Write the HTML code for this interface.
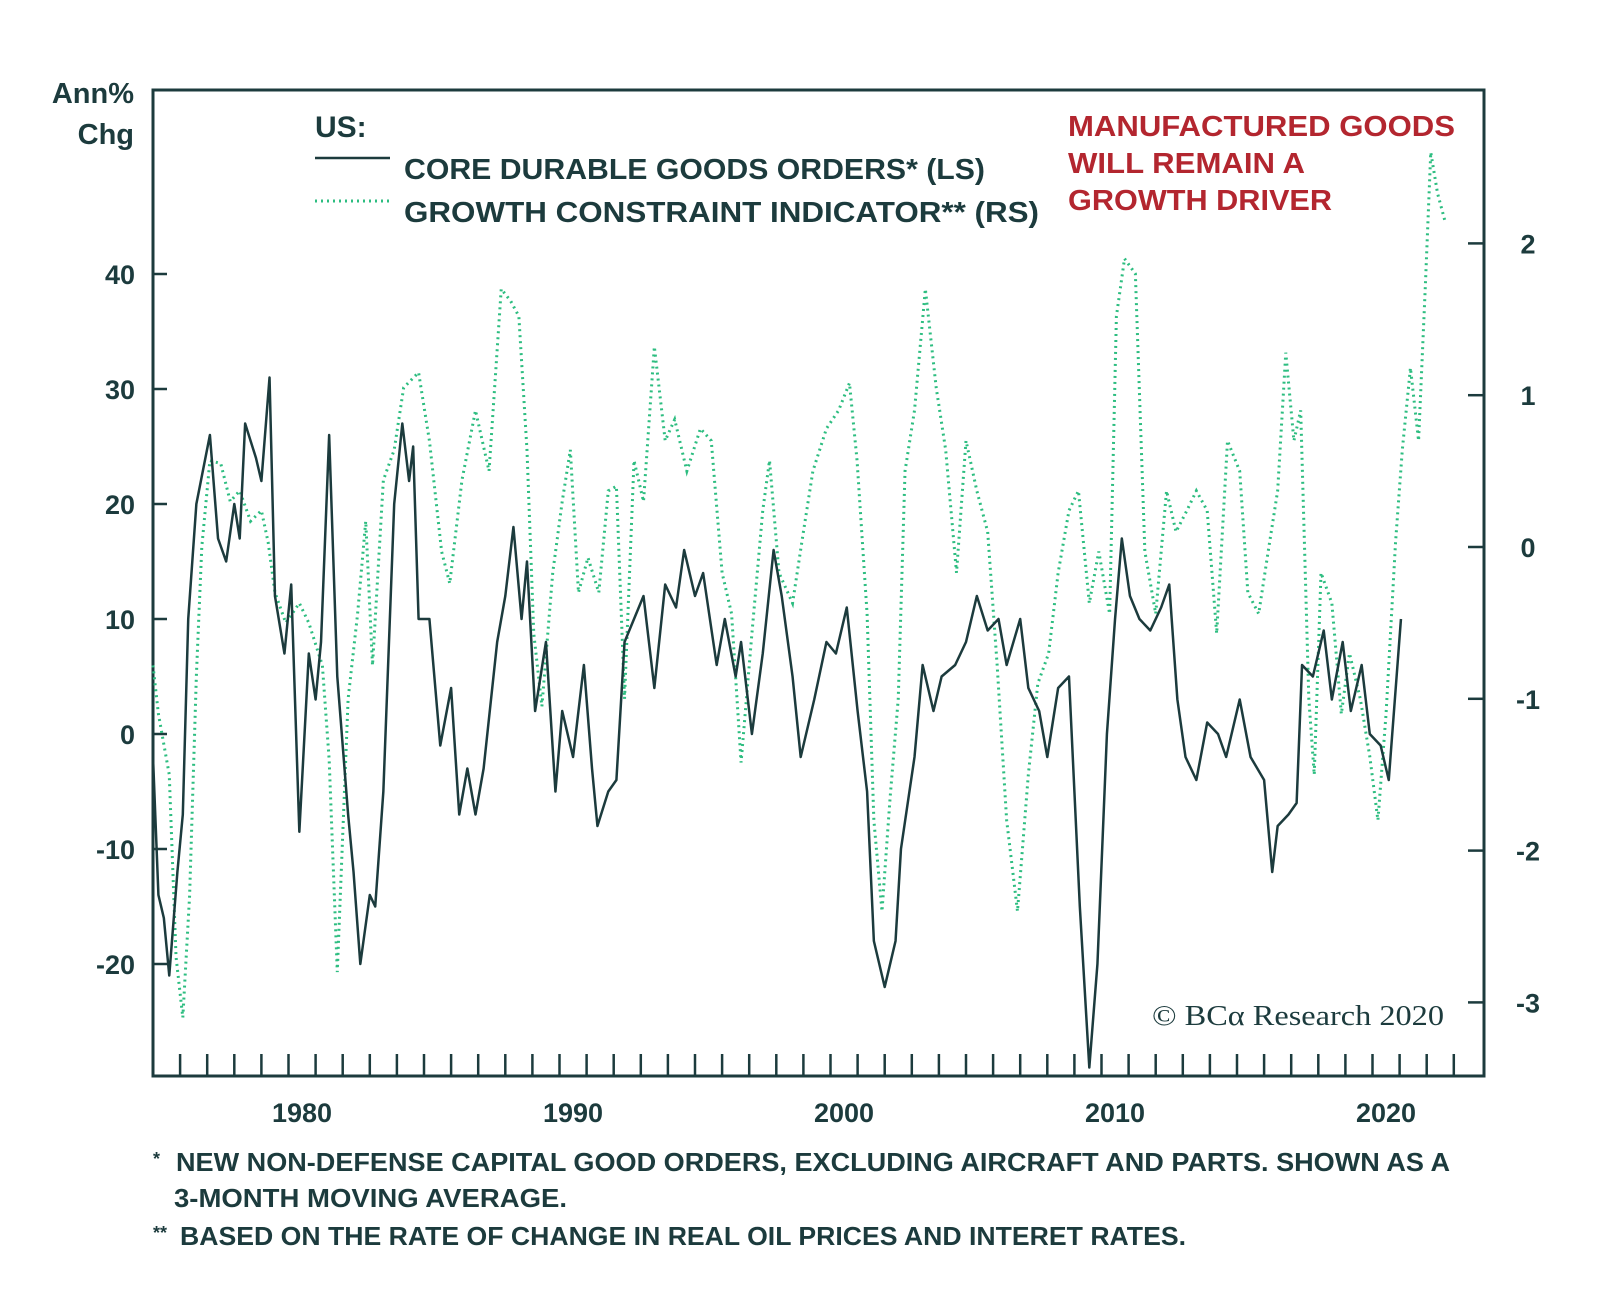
<!DOCTYPE html>
<html><head><meta charset="utf-8"><style>
html,body{margin:0;padding:0;background:#fff;}
svg{display:block;font-family:"Liberation Sans",sans-serif;}
</style></head><body>
<svg id="chart" width="1600" height="1305" viewBox="0 0 1600 1305">
<g id="axes"></g>
<g id="series"></g>
<g>
<text x="315" y="137" font-size="30" font-weight="bold" fill="#1c3b3d">US:</text>
<line x1="315" y1="158" x2="390" y2="158" stroke="#1c3b3d" stroke-width="2.5"/>
<text x="404" y="179" font-size="29" font-weight="bold" fill="#1c3b3d" textLength="581" lengthAdjust="spacingAndGlyphs">CORE DURABLE GOODS ORDERS* (LS)</text>
<line x1="315" y1="201" x2="390" y2="201" stroke="#2dbd80" stroke-width="3" stroke-dasharray="2 4"/>
<text x="404" y="222" font-size="29" font-weight="bold" fill="#1c3b3d" textLength="635" lengthAdjust="spacingAndGlyphs">GROWTH CONSTRAINT INDICATOR** (RS)</text>
</g>
<g fill="#b3262f" font-size="29" font-weight="bold">
<text x="1068" y="136" textLength="387" lengthAdjust="spacingAndGlyphs">MANUFACTURED GOODS</text>
<text x="1068" y="173" textLength="237" lengthAdjust="spacingAndGlyphs">WILL REMAIN A</text>
<text x="1068" y="210" textLength="264" lengthAdjust="spacingAndGlyphs">GROWTH DRIVER</text>
</g>
<text x="1152" y="1025" font-family="Liberation Serif, serif" font-size="29" fill="#1c3b3d" textLength="292" lengthAdjust="spacingAndGlyphs">© BCα Research 2020</text>
<text x="134" y="103" text-anchor="end" font-size="29" font-weight="bold" fill="#1c3b3d">Ann%</text>
<text x="134" y="144" text-anchor="end" font-size="29" font-weight="bold" fill="#1c3b3d">Chg</text>
<g fill="#1c3b3d" font-size="26" font-weight="bold">
<text x="153" y="1165" font-size="18">*</text>
<text x="176" y="1171" textLength="1274" lengthAdjust="spacingAndGlyphs">NEW NON-DEFENSE CAPITAL GOOD ORDERS, EXCLUDING AIRCRAFT AND PARTS. SHOWN AS A</text>
<text x="174" y="1207" textLength="393" lengthAdjust="spacingAndGlyphs">3-MONTH MOVING AVERAGE.</text>
<text x="153" y="1239" font-size="18">**</text>
<text x="180" y="1245" textLength="1006" lengthAdjust="spacingAndGlyphs">BASED ON THE RATE OF CHANGE IN REAL OIL PRICES AND INTERET RATES.</text>
</g>
</svg>
<script>
const leftTicks=[40,30,20,10,0,-10,-20];
const rightTicks=[2,1,0,-1,-2,-3];
const yearLabels=[1980,1990,2000,2010,2020];
const coreYears=[1975.0,1975.2,1975.4,1975.6,1975.9,1976.1,1976.3,1976.6,1977.1,1977.4,1977.7,1978.0,1978.2,1978.4,1978.8,1979.0,1979.3,1979.5,1979.85,1980.1,1980.4,1980.75,1981.0,1981.2,1981.5,1981.8,1982.2,1982.4,1982.65,1983.0,1983.2,1983.5,1983.9,1984.2,1984.45,1984.6,1984.8,1985.2,1985.6,1986.0,1986.3,1986.6,1986.9,1987.2,1987.7,1988.0,1988.3,1988.6,1988.8,1989.1,1989.5,1989.85,1990.1,1990.5,1990.9,1991.2,1991.4,1991.8,1992.1,1992.4,1992.75,1993.1,1993.5,1993.9,1994.3,1994.6,1995.0,1995.3,1995.8,1996.1,1996.5,1996.7,1997.1,1997.5,1997.9,1998.2,1998.6,1998.9,1999.4,1999.85,2000.2,2000.6,2001.0,2001.35,2001.6,2002.0,2002.4,2002.6,2003.1,2003.4,2003.8,2004.1,2004.6,2005.0,2005.4,2005.8,2006.2,2006.5,2007.0,2007.3,2007.7,2008.0,2008.4,2008.8,2009.2,2009.55,2009.85,2010.2,2010.5,2010.75,2011.05,2011.4,2011.8,2012.2,2012.5,2012.8,2013.1,2013.5,2013.9,2014.3,2014.6,2015.1,2015.5,2016.0,2016.3,2016.5,2016.9,2017.2,2017.4,2017.8,2018.2,2018.5,2018.9,2019.2,2019.6,2019.9,2020.3,2020.6,2021.05];
const coreValues=[-2,-14,-16,-21,-12,-7,10,20,26,17,15,20,17,27,24,22,31,12,7,13,-8.5,7,3,8,26,5,-7,-12,-20,-14,-15,-5,20,27,22,25,10,10,-1,4,-7,-3,-7,-3,8,12,18,10,15,2,8,-5,2,-2,6,-3,-8,-5,-4,8,10,12,4,13,11,16,12,14,6,10,5,8,0,7,16,12,5,-2,3,8,7,11,2,-5,-18,-22,-18,-10,-2,6,2,5,6,8,12,9,10,6,10,4,2,-2,4,5,-15,-29,-20,0,10,17,12,10,9,11,13,3,-2,-4,1,0,-2,3,-2,-4,-12,-8,-7,-6,6,5,9,3,8,2,6,0,-1,-4,10];
const gciYears=[1975.0,1975.2,1975.6,1975.85,1976.1,1976.35,1976.6,1976.8,1977.1,1977.5,1977.85,1978.2,1978.6,1979.0,1979.25,1979.5,1979.9,1980.4,1980.75,1981.25,1981.5,1981.8,1982.2,1982.55,1982.85,1983.1,1983.5,1983.9,1984.25,1984.8,1985.2,1985.65,1985.95,1986.4,1986.9,1987.4,1987.85,1988.2,1988.5,1988.8,1989.05,1989.35,1989.75,1990.1,1990.4,1990.7,1991.05,1991.45,1991.8,1992.1,1992.4,1992.75,1993.1,1993.5,1993.9,1994.25,1994.7,1995.2,1995.6,1996.0,1996.35,1996.7,1997.1,1997.5,1997.75,1998.1,1998.6,1999.0,1999.35,1999.85,2000.3,2000.7,2000.98,2001.35,2001.6,2001.9,2002.2,2002.5,2002.75,2003.1,2003.5,2003.9,2004.25,2004.65,2005.0,2005.4,2005.8,2006.15,2006.5,2006.9,2007.3,2007.65,2008.05,2008.4,2008.8,2009.15,2009.55,2009.9,2010.3,2010.55,2010.85,2011.25,2011.6,2012.0,2012.4,2012.75,2013.15,2013.5,2013.9,2014.25,2014.65,2015.1,2015.4,2015.8,2016.15,2016.5,2016.8,2017.1,2017.35,2017.65,2017.85,2018.1,2018.5,2018.85,2019.15,2019.55,2019.9,2020.2,2020.5,2020.85,2021.1,2021.4,2021.7,2021.95,2022.15,2022.4,2022.7];
const gciValues=[-0.78,-1.1,-1.5,-2.7,-3.1,-2.3,-0.85,0,0.57,0.55,0.3,0.37,0.17,0.24,0.03,-0.3,-0.5,-0.37,-0.5,-0.78,-1.4,-2.8,-1.0,-0.44,0.17,-0.78,0.44,0.64,1.05,1.15,0.7,-0.03,-0.24,0.44,0.9,0.5,1.7,1.62,1.52,0.64,-0.57,-1.05,-0.17,0.3,0.64,-0.3,-0.07,-0.3,0.37,0.4,-1.0,0.57,0.3,1.32,0.7,0.84,0.5,0.78,0.7,-0.17,-0.44,-1.42,-0.57,0.24,0.57,-0.17,-0.37,0.1,0.5,0.78,0.9,1.08,0.57,-0.44,-1.8,-2.4,-1.65,-1.0,0.5,0.9,1.7,1.05,0.64,-0.17,0.7,0.37,0.1,-0.78,-1.8,-2.4,-1.5,-0.9,-0.7,-0.17,0.24,0.37,-0.37,-0.03,-0.44,1.52,1.9,1.8,-0.03,-0.44,0.37,0.1,0.24,0.37,0.24,-0.57,0.7,0.5,-0.3,-0.44,-0.03,0.37,1.28,0.7,0.9,-1.0,-1.5,-0.17,-0.37,-1.1,-0.7,-1.0,-1.38,-1.8,-1.1,0.03,0.64,1.18,0.7,1.72,2.6,2.33,2.13];

const NS='http://www.w3.org/2000/svg';
const C='#1c3b3d';
const L=153,R=1484,T=90,B=1076;
function x(yr){return 288.5+(yr-1980)*27.1;}
function yL(v){return 734-v*11.5;}
function yR(v){return 547-v*151.8;}
function mk(tag,attrs,parent){const e=document.createElementNS(NS,tag);for(const k in attrs)e.setAttribute(k,attrs[k]);parent.appendChild(e);return e;}
const axes=document.getElementById('axes'),series=document.getElementById('series');
const frame=mk('rect',{x:L,y:T,width:R-L,height:B-T,fill:'none',stroke:C,'stroke-width':3},axes);


leftTicks.forEach(v=>{
  const t=mk('line',{x1:L,x2:L+14,y1:yL(v),y2:yL(v),stroke:C,'stroke-width':2.5},axes);
  
  
  const tx=mk('text',{x:135,y:yL(v)+10,'text-anchor':'end','font-size':27,'font-weight':'bold',fill:C},axes);
  tx.textContent=String(v);
  
  
});
rightTicks.forEach(v=>{
  const t=mk('line',{x1:R-16,x2:R,y1:yR(v),y2:yR(v),stroke:C,'stroke-width':2.5},axes);
  
  
  const tx=mk('text',{x:1528,y:yR(v)+10,'text-anchor':'middle','font-size':27,'font-weight':'bold',fill:C},axes);
  tx.textContent=String(v);
  
  
});
for(let yr=1976;yr<=2023;yr++){
  const t=mk('line',{x1:x(yr),x2:x(yr),y1:B-22,y2:B,stroke:C,'stroke-width':2.5},axes);
  
  
}
yearLabels.forEach(yr=>{
  const tx=mk('text',{x:x(yr+0.5),y:1122,'text-anchor':'middle','font-size':27,'font-weight':'bold',fill:C},axes);
  tx.textContent=String(yr);
  
  
});
const g=mk('polyline',{points:gciYears.map((yr,i)=>x(yr)+','+yR(gciValues[i])).join(' '),fill:'none',stroke:'#2dbd80','stroke-width':3,'stroke-dasharray':'2 4'},series);


const c=mk('polyline',{points:coreYears.map((yr,i)=>x(yr)+','+yL(coreValues[i])).join(' '),fill:'none',stroke:C,'stroke-width':2.5,'stroke-linejoin':'round'},series);


</script>
</body></html>
